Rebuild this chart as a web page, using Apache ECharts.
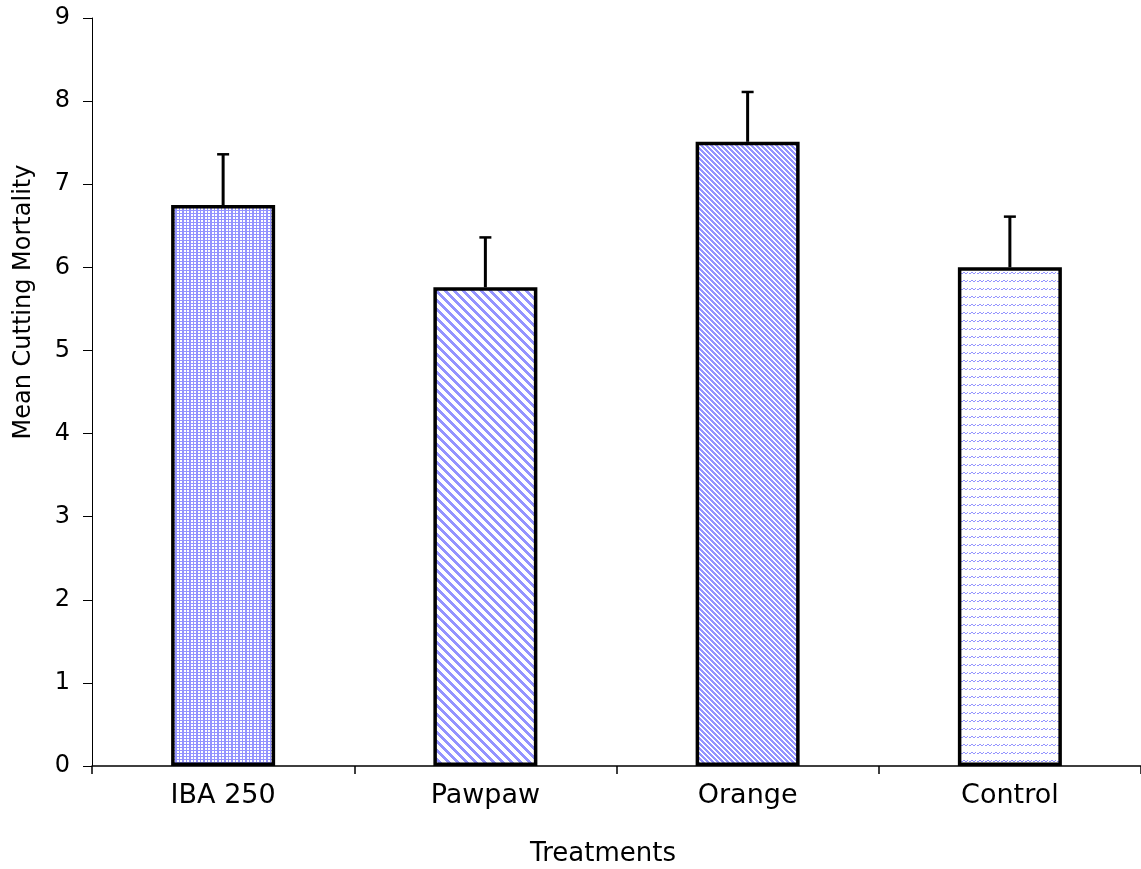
<!DOCTYPE html>
<html><head><meta charset="utf-8">
<script src="https://cdn.jsdelivr.net/npm/echarts@6/dist/echarts.min.js"></script>
<style>html,body{margin:0;padding:0;background:#fff}#c{width:1141px;height:869px}</style>
</head><body><div id="c"></div>
<script>
const categories = ['IBA 250', 'Pawpaw', 'Orange', 'Control'];
const means = [6.75, 5.76, 7.51, 6.0];
const errorTops = [7.36, 6.36, 8.11, 6.61];
const yMin = 0, yMax = 9, yStep = 1;
const xName = 'Treatments';
const yName = 'Mean Cutting Mortality';

const LAV = '#9494ff';
function tile(w, h, draw) {
  const c = document.createElement('canvas');
  c.width = w; c.height = h;
  const g = c.getContext('2d');
  g.fillStyle = '#fff'; g.fillRect(0, 0, w, h);
  g.fillStyle = LAV;
  draw(g);
  return c;
}
// IBA 250: fine grid
const pGrid = tile(7, 6, g => {
  g.fillRect(0, 0, 7, 1); g.fillRect(0, 3, 7, 1);
  g.fillRect(0, 0, 2, 6); g.fillRect(4, 0, 1, 6);
});
// Pawpaw: diagonal stripes (down-right)
const pDiag = tile(9, 9, g => {
  for (let i = 0; i < 9; i++) {
    for (let k = 0; k < 4; k++) g.fillRect((i + k) % 9, i, 1, 1);
  }
});
// Orange: dense diagonal staircase
const pDense = tile(5, 5, g => {
  for (let i = 0; i < 5; i++) {
    for (let k = 0; k < 3; k++) g.fillRect((i + k) % 5, i, 1, 1);
  }
});
// Control: rows of slanted dashes
const pDash = tile(8, 8, g => {
  g.fillRect(3, 0, 2, 1); g.fillRect(7, 0, 1, 1);
  g.fillRect(1, 1, 2, 1); g.fillRect(5, 1, 2, 1);
});
const patterns = [pGrid, pDiag, pDense, pDash];

const barData = means.map((v, i) => ({
  value: v,
  itemStyle: { color: { image: patterns[i], repeat: 'repeat' } }
}));
const errData = means.map((v, i) => [i, v, errorTops[i]]);

const FONT = '"DejaVu Sans", sans-serif';
const chart = echarts.init(document.getElementById('c'), null, { renderer: 'canvas' });
chart.setOption({
  animation: false,
  backgroundColor: '#fff',
  grid: { left: 92, top: 18, width: 1050, height: 748, containLabel: false },
  xAxis: {
    type: 'category',
    data: categories,
    boundaryGap: true,
    axisLine: { lineStyle: { color: '#000', width: 1.5 } },
    axisTick: { show: true, length: 8, alignWithLabel: false, lineStyle: { color: '#000', width: 1.5 } },
    axisLabel: { color: '#000', fontFamily: FONT, fontSize: 27, margin: 16 },
    splitLine: { show: false }
  },
  yAxis: {
    type: 'value',
    min: yMin, max: yMax, interval: yStep,
    axisLine: { show: true, lineStyle: { color: '#000', width: 1 } },
    axisTick: { show: true, length: 9, lineStyle: { color: '#000', width: 1 } },
    axisLabel: { color: '#000', fontFamily: FONT, fontSize: 24, margin: 22 },
    splitLine: { show: false }
  },
  graphic: [
    { type: 'text', x: 603, y: 854,
      style: { text: xName, font: '26px ' + FONT, fill: '#000', align: 'center', verticalAlign: 'middle', textAlign: 'center', textVerticalAlign: 'middle' } },
    { type: 'text', x: 24, y: 302, rotation: Math.PI / 2,
      style: { text: yName, font: '24px ' + FONT, fill: '#000', align: 'center', verticalAlign: 'middle', textAlign: 'center', textVerticalAlign: 'middle' } }
  ],
  series: [
    {
      type: 'bar',
      data: barData,
      barWidth: 104,
      itemStyle: { borderColor: '#000', borderWidth: 3.5 },
      z: 2
    },
    {
      type: 'custom',
      data: errData,
      encode: { x: 0, y: [1, 2] },
      z: 3,
      renderItem: function (params, api) {
        const x = api.value(0);
        const top = api.coord([x, api.value(2)]);
        const base = api.coord([x, api.value(1)]);
        return {
          type: 'group',
          children: [
            { type: 'line', shape: { x1: top[0], y1: top[1], x2: base[0], y2: base[1] }, style: { stroke: '#000', lineWidth: 3 } },
            { type: 'line', shape: { x1: top[0] - 6, y1: top[1], x2: top[0] + 6, y2: top[1] }, style: { stroke: '#000', lineWidth: 2.5 } }
          ]
        };
      }
    }
  ]
});
</script></body></html>
